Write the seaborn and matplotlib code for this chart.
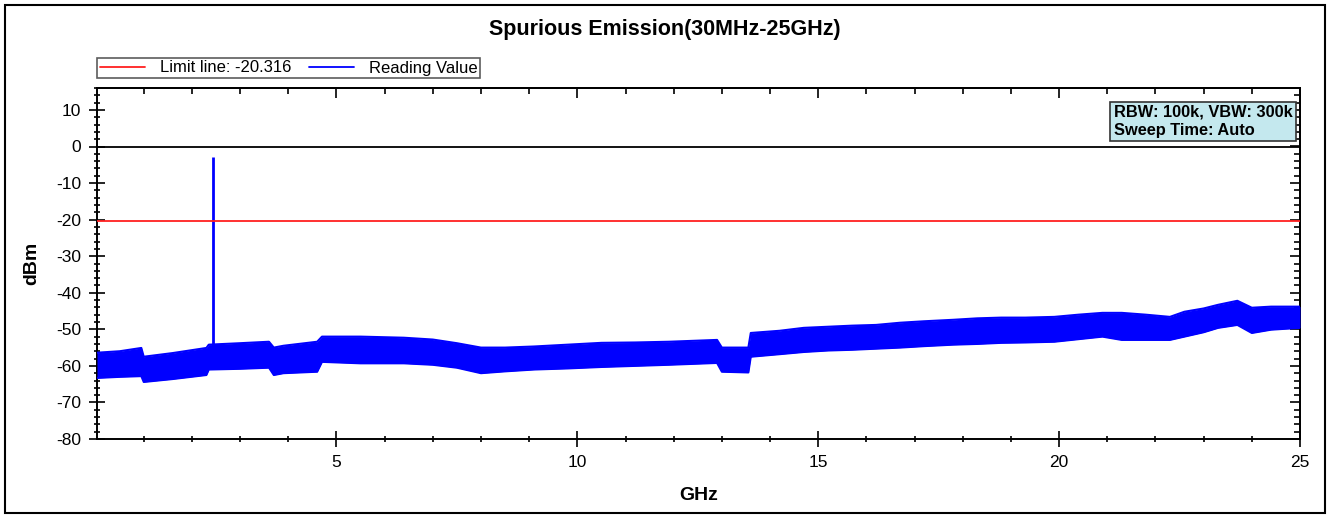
import numpy as np
import pandas as pd
import seaborn as sns
import matplotlib.pyplot as plt
from matplotlib.lines import Line2D
from matplotlib.patches import Rectangle
from matplotlib.ticker import MultipleLocator

freq = [0.03, 0.5, 0.95, 1.0, 1.6, 2.3, 2.35, 3.0, 3.6, 3.7, 3.9, 4.6, 4.7,
        5.5, 6.4, 7.0, 7.5, 8.0, 8.5, 9.1, 9.8, 10.5, 11.2, 11.9, 12.9, 13.0,
        13.55, 13.6, 14.2, 14.7, 15.2, 15.7, 16.2, 16.7, 17.2, 17.8, 18.3,
        18.8, 19.3, 19.9, 20.4, 20.9, 21.3, 21.8, 22.3, 22.6, 23.0, 23.3,
        23.7, 24.0, 24.4, 25.0]
upper = [-56.4, -56.0, -55.1, -57.5, -56.5, -55.1, -54.2, -53.8, -53.4, -55.0,
         -54.5, -53.4, -52.0, -52.0, -52.3, -52.8, -53.8, -55.0, -55.0, -54.7,
         -54.2, -53.7, -53.6, -53.4, -52.9, -55.0, -55.0, -51.0, -50.4, -49.6,
         -49.3, -49.0, -48.8, -48.2, -47.8, -47.4, -47.0, -46.8, -46.8, -46.6,
         -46.0, -45.5, -45.5, -46.0, -46.6, -45.2, -44.3, -43.3, -42.2, -44.1,
         -43.8, -43.8]
lower = [-63.3, -63.0, -62.8, -64.4, -63.6, -62.5, -61.0, -60.8, -60.5, -62.5,
         -62.0, -61.6, -58.9, -59.3, -59.3, -59.7, -60.5, -62.0, -61.5, -61.0,
         -60.7, -60.3, -60.0, -59.7, -59.2, -61.6, -61.8, -57.5, -56.8, -56.2,
         -55.8, -55.6, -55.3, -55.0, -54.6, -54.2, -54.0, -53.7, -53.6, -53.4,
         -52.7, -52.0, -52.9, -52.9, -52.9, -52.0, -50.8, -49.6, -48.8, -51.0,
         -50.1, -49.6]

# carrier spike
spike_freq = [2.44]
spike_peak = [-3.0]
spike_base = [-56.0]

limit = -20.316

df = pd.DataFrame({'GHz': freq, 'upper': upper, 'lower': lower})

sns.set_theme(style='white')
plt.rcParams['font.family'] = ['Liberation Sans', 'DejaVu Sans']
plt.rcParams['axes.unicode_minus'] = False
plt.rcParams['text.color'] = 'black'
plt.rcParams['axes.labelcolor'] = 'black'
plt.rcParams['xtick.color'] = 'black'
plt.rcParams['ytick.color'] = 'black'

fig = plt.figure(figsize=(13.31, 5.17), dpi=100)
ax = fig.add_axes([97/1331, 1-439/517, 1203/1331, 351/517])

blue = '#0000ff'
ax.fill_between(df['GHz'], df['lower'], df['upper'], color=blue, lw=0, zorder=3)
sns.lineplot(data=df, x='GHz', y='upper', color=blue, lw=1.5, estimator=None,
             sort=False, ax=ax, zorder=3)
sns.lineplot(data=df, x='GHz', y='lower', color=blue, lw=1.5, estimator=None,
             sort=False, ax=ax, zorder=3)
ax.vlines(spike_freq, spike_base, spike_peak, color=blue, lw=2, zorder=3)

ax.axhline(limit, color='#ff2020', lw=1.3, zorder=4)
ax.axhline(0, color='black', lw=1.3, zorder=2)

ax.set_xlim(0.03, 25)
ax.set_ylim(-80, 16)
ax.xaxis.set_major_locator(MultipleLocator(5))
ax.xaxis.set_minor_locator(MultipleLocator(1))
ax.yaxis.set_major_locator(MultipleLocator(10))
ax.yaxis.set_minor_locator(MultipleLocator(2))
ax.tick_params(which='major', direction='inout', length=11, width=1.2,
               color='black', labelcolor='black', labelsize=12.5, pad=6)
ax.tick_params(which='minor', direction='inout', length=5, width=1.2,
               color='black')
ax.tick_params(axis='x', which='both', bottom=True)
ax.tick_params(axis='y', which='both', left=True)

for s in ax.spines.values():
    s.set_color('black')
    s.set_linewidth(1.4)

# inner ticks on top and right
top = ax.secondary_xaxis('top')
top.xaxis.set_major_locator(MultipleLocator(5))
top.xaxis.set_minor_locator(MultipleLocator(1))
top.tick_params(which='major', direction='in', length=7, width=1.2, labeltop=False)
top.tick_params(which='minor', direction='in', length=4, width=1.2)
top.spines['top'].set_linewidth(1.4)
right = ax.secondary_yaxis('right')
right.yaxis.set_major_locator(MultipleLocator(10))
right.yaxis.set_minor_locator(MultipleLocator(2))
right.tick_params(which='major', direction='in', length=7, width=1.2, labelright=False)
right.tick_params(which='minor', direction='in', length=4, width=1.2)
right.spines['right'].set_linewidth(1.4)

ax.set_xlabel('GHz', fontsize=14, fontweight='bold', labelpad=12)
ax.set_ylabel('dBm', fontsize=14, fontweight='bold', labelpad=11)

fig.text(665/1331, 1-30/517, 'Spurious Emission(30MHz-25GHz)', ha='center',
         va='center', fontsize=15.5, fontweight='bold')

handles = [Line2D([], [], color='#ff2020', lw=1.3),
           Line2D([], [], color=blue, lw=1.3)]
leg = fig.legend(handles, ['Limit line: -20.316', 'Reading Value'],
                 loc='lower left', bbox_to_anchor=(97/1331, 1-78/517),
                 ncol=2, fontsize=12, frameon=True, fancybox=False,
                 handlelength=2.7, borderpad=0.15, columnspacing=1.1,
                 handletextpad=0.9, borderaxespad=0)
leg.get_frame().set_edgecolor('#333333')
leg.get_frame().set_linewidth(1.2)

ax.text(0.845, 0.952, 'RBW: 100k, VBW: 300k\nSweep Time: Auto',
        transform=ax.transAxes, ha='left', va='top', fontsize=11.8,
        fontweight='bold', linespacing=1.25, zorder=6,
        bbox=dict(boxstyle='square,pad=0.2', facecolor='#c4e8ee',
                  edgecolor='#333333', lw=1.2))

fig.patches.append(Rectangle((5/1331, 4/517), 1320/1331, 508/517,
                             transform=fig.transFigure, fill=False,
                             edgecolor='black', lw=1.5))

plt.savefig('out.png', dpi=100)
